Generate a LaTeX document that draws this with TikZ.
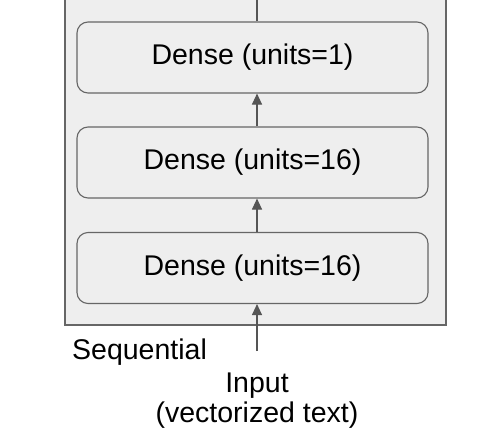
\documentclass[tikz,border=0pt]{standalone}
\usepackage{fontspec}
\setmainfont{Liberation Sans}
\usetikzlibrary{arrows.meta}
\definecolor{boxfill}{HTML}{EEEEEE}
\definecolor{boxline}{HTML}{666666}
\definecolor{arrowc}{HTML}{555555}
\begin{document}
\begin{tikzpicture}[x=1pt,y=-1pt,
  layer/.style={draw=boxline,fill=boxfill,rounded corners=11pt,line width=1.1pt,
    minimum width=351pt,minimum height=71pt,inner sep=0pt,
    font=\fontsize{28.5}{34}\selectfont},
  conn/.style={draw=arrowc,line width=1.1pt,-{Triangle[length=11pt,width=10pt]}},
  lbl/.style={font=\fontsize{28.5}{32}\selectfont,inner sep=0pt}]
\useasboundingbox (0,0) rectangle (502,436);
\clip (0,0) rectangle (502,436);
\fill[white] (0,0) rectangle (502,436);
\draw[draw=boxline,fill=boxfill,line width=1.1pt] (65,-5) rectangle (446,325);
\node[layer] (d1) at (252.5,57.5) {Dense (units=1)};
\node[layer] (d2) at (252.5,162.5) {Dense (units=16)};
\node[layer] (d3) at (252.5,268) {Dense (units=16)};
\coordinate (top) at (257,-5);
\coordinate (in) at (257,351);
\node[lbl,anchor=base west] (seq) at (72,359) {Sequential};
\node[lbl,anchor=base,align=center] (inp) at (257,422) {Input\\[-2pt](vectorized text)};
\draw[conn] (in) -- (in |- d3.south);
\draw[conn] (d3.north -| in) -- (in |- d2.south);
\draw[conn] (d2.north -| in) -- (in |- d1.south);
\draw[draw=arrowc,line width=1.1pt] (d1.north -| in) -- (top);
\end{tikzpicture}
\end{document}
